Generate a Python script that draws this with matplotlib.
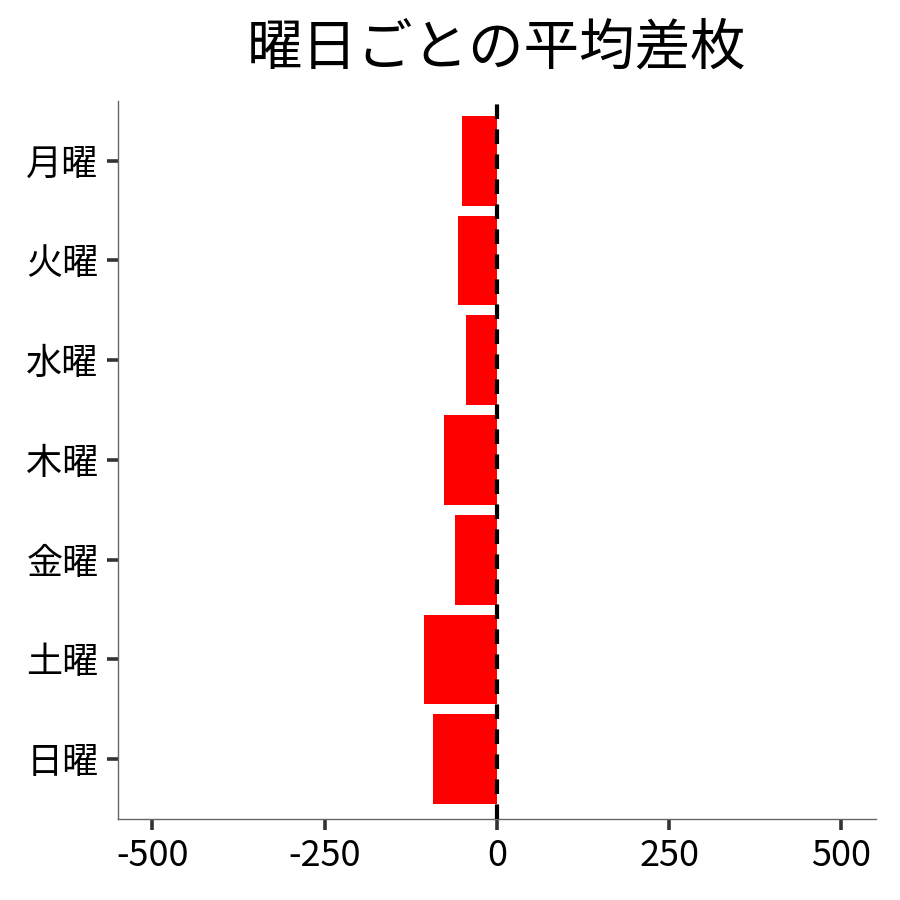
import matplotlib
matplotlib.use("Agg")
import matplotlib.pyplot as plt

plt.rcParams['font.family'] = ['Noto Sans CJK JP', 'DejaVu Sans']

days = ['月曜', '火曜', '水曜', '木曜', '金曜', '土曜', '日曜']
avg_diff = [-50, -57, -44, -77, -60, -106, -93]
xticks = [-500, -250, 0, 250, 500]

fig = plt.figure(figsize=(9, 9), dpi=100)
ax = fig.add_axes([0.131, 0.09, 0.842, 0.798])

ypos = list(range(len(days)))
ax.barh(ypos, avg_diff, height=0.9, color='#ff0000', zorder=2)
ax.axvline(0, color='black', linestyle=(0, (3.5, 2.5)), linewidth=3, zorder=3)

ax.set_xlim(-550, 550)
ax.set_ylim(len(days) - 0.4, -0.6)
ax.set_yticks(ypos)
ax.set_yticklabels(days)
ax.set_xticks(xticks)
ax.set_xticklabels([str(v) for v in xticks])

for s in ['top', 'right']:
    ax.spines[s].set_visible(False)
for s in ['left', 'bottom']:
    ax.spines[s].set_color('#666666')
    ax.spines[s].set_linewidth(1.0)

ax.tick_params(axis='both', length=8, width=2.6, color='#333333',
               labelsize=26, labelcolor='black', pad=6)

ax.set_title('曜日ごとの平均差枚', fontsize=40, pad=26)

fig.savefig('out.png', dpi=100, facecolor='white')
